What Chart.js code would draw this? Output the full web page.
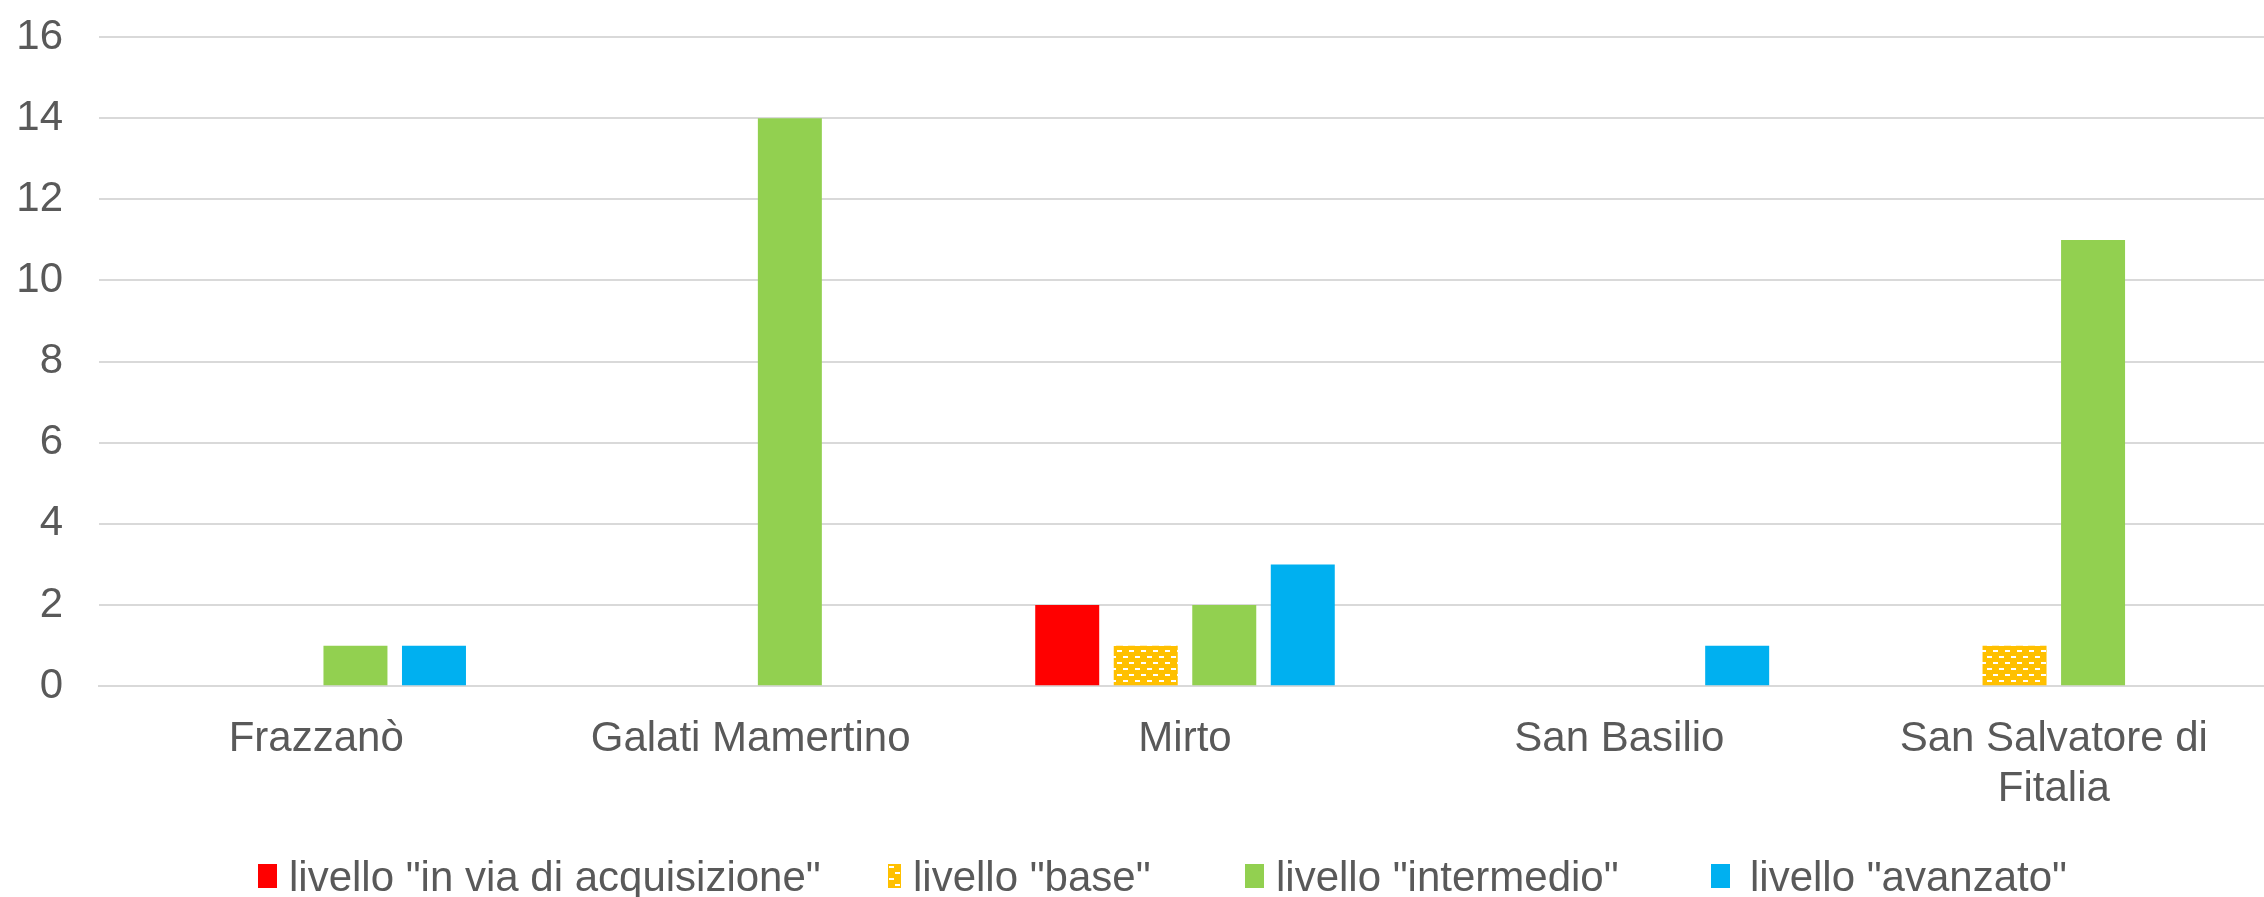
<!DOCTYPE html>
<html><head><meta charset="utf-8">
<script src="https://cdn.jsdelivr.net/npm/chart.js@4.4.1/dist/chart.umd.min.js"></script>
<style>html,body{margin:0;padding:0;overflow:hidden;background:#fff}</style></head>
<body><canvas id="c" width="2271" height="897"></canvas>
<script>
// ---- data ----
const categories = ['Frazzanò', 'Galati Mamertino', 'Mirto', 'San Basilio', ['San Salvatore di', 'Fitalia']];
const seriesLabels = ['livello "in via di acquisizione"', 'livello "base"', 'livello "intermedio"', 'livello "avanzato"'];
const inViaDiAcquisizione = [0, 0, 2, 0, 0];
const base = [0, 0, 1, 0, 1];
const intermedio = [1, 14, 2, 0, 11];
const avanzato = [1, 0, 3, 1, 0];
const yMin = 0, yMax = 16, yStep = 2;

// ---- styles ----
const FONT = '"Liberation Sans", Arial, sans-serif';
const TEXT = '#595959';
function makePattern() {
  const t = document.createElement('canvas');
  t.width = 12; t.height = 12;
  const g = t.getContext('2d');
  g.fillStyle = '#FFC000'; g.fillRect(0, 0, 12, 12);
  g.fillStyle = '#FFFFFF';
  g.fillRect(1, 2, 5, 2);
  g.fillRect(7, 8, 5, 2);
  return document.getElementById('c').getContext('2d').createPattern(t, 'repeat');
}
const yellowPattern = makePattern();
const colors = ['#FF0000', yellowPattern, '#92D050', '#00B0F0'];
const seriesValues = [inViaDiAcquisizione, base, intermedio, avanzato];

const legendLayout = { x: [258, 888, 1245, 1711], boxW: [19, 13, 19, 19], gap: [12, 12, 12, 20], boxH: 24, boxTop: 864, baseline: 891 };
const customLegend = {
  id: 'customLegend',
  afterDraw(chart) {
    const ctx = chart.ctx;
    ctx.save();
    chart.data.datasets.forEach((ds, i) => {
      const x = legendLayout.x[i];
      ctx.fillStyle = ds.backgroundColor;
      ctx.fillRect(x, legendLayout.boxTop, legendLayout.boxW[i], legendLayout.boxH);
      ctx.fillStyle = TEXT;
      ctx.font = '42px ' + FONT;
      ctx.textBaseline = 'alphabetic';
      ctx.textAlign = 'left';
      ctx.fillText(ds.label, x + legendLayout.boxW[i] + legendLayout.gap[i], legendLayout.baseline);
    });
    ctx.restore();
  }
};

new Chart(document.getElementById('c'), {
  type: 'bar',
  data: {
    labels: categories,
    datasets: seriesLabels.map((l, i) => ({
      label: l,
      data: seriesValues[i],
      backgroundColor: colors[i],
      borderWidth: 0,
      categoryPercentage: 0.723,
      barPercentage: 0.815
    }))
  },
  options: {
    responsive: false,
    animation: false,
    devicePixelRatio: 1,
    layout: { padding: { left: 16, top: 37, right: 0, bottom: 54 } },
    plugins: { legend: { display: false }, tooltip: { enabled: false } },
    scales: {
      x: {
        afterFit(scale) { scale.paddingLeft = 0; scale.paddingRight = 0; },
        grid: { display: false, drawTicks: false },
        border: { display: true, color: '#D9D9D9', width: 2 },
        ticks: { color: TEXT, font: { family: FONT, size: 42, lineHeight: 1.2 }, padding: 28, maxRotation: 0, autoSkip: false }
      },
      y: {
        min: yMin, max: yMax,
        afterFit(scale) { scale.width = 83; scale.paddingTop = 0; scale.paddingBottom = 0; scale.paddingLeft = 0; scale.paddingRight = 0; },
        grid: { color: '#D9D9D9', lineWidth: 2, drawTicks: false },
        border: { display: false },
        ticks: { stepSize: yStep, color: TEXT, font: { family: FONT, size: 42 }, padding: 36 }
      }
    }
  },
  plugins: [customLegend]
});
</script>
</body></html>
